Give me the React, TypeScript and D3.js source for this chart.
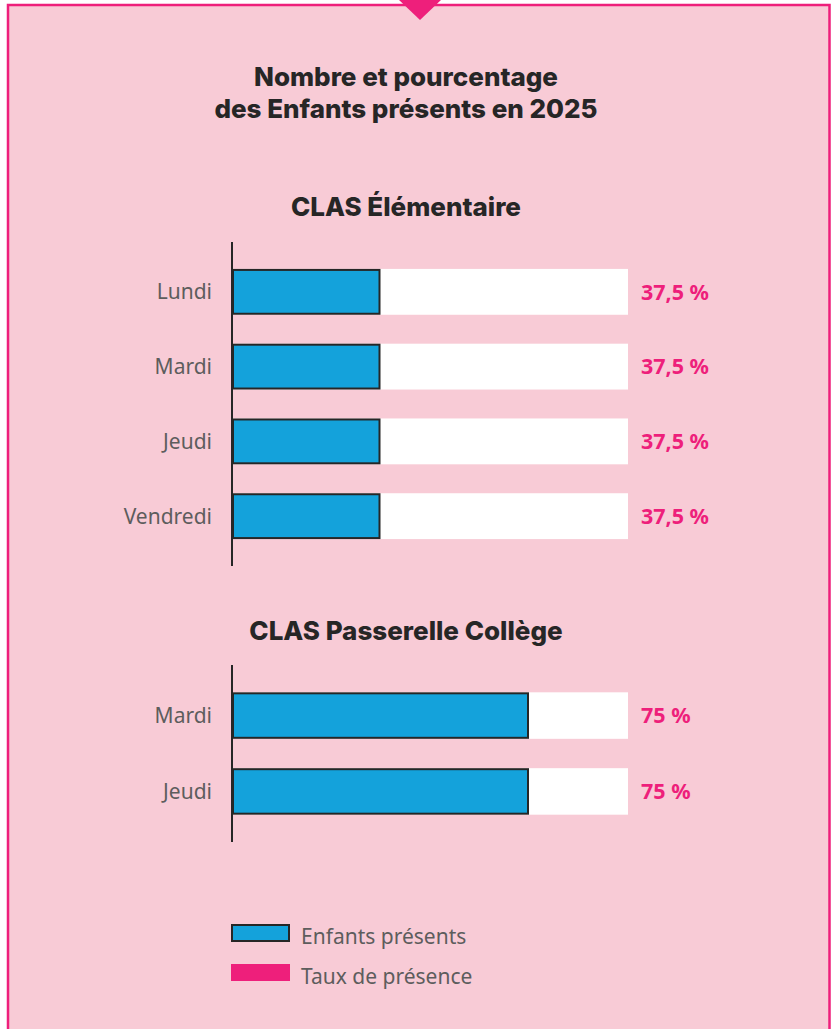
import React, { useEffect, useRef } from 'react';
import * as d3 from 'd3';

// Data
const elementaireDays = ['Lundi', 'Mardi', 'Jeudi', 'Vendredi'];
const elementaireRates = [37.5, 37.5, 37.5, 37.5];

const collegeDays = ['Mardi', 'Jeudi'];
const collegeRates = [75, 75];

const legendLabels = ['Enfants présents', 'Taux de présence'];

const titleLines = ['Nombre et pourcentage', 'des Enfants présents en 2025'];
const sectionTitles = ['CLAS Élémentaire', 'CLAS Passerelle Collège'];

const W = 831;
const H = 1029;
const PINK = '#ee1f7b';
const BG = '#f8cbd6';
const BLUE = '#14a2db';
const DARK = '#262626';
const GREY = '#5d5d5d';
const TITLE_FONT = 'Inter, sans-serif';
const BODY_FONT = '"Noto Sans", sans-serif';

const fmt = (v: number) => v.toString().replace('.', ',') + ' %';

export default function App() {
  const svgRef = useRef<SVGSVGElement | null>(null);

  useEffect(() => {
    if (!svgRef.current) return;
    const svg = d3.select(svgRef.current);
    svg.selectAll('*').remove();

    // Frame
    svg.append('rect')
      .attr('x', 8).attr('y', 5)
      .attr('width', W - 9.5).attr('height', H + 20)
      .attr('fill', BG)
      .attr('stroke', PINK)
      .attr('stroke-width', 2.5);

    svg.append('path')
      .attr('d', d3.line()([[399, 0], [441, 0], [420, 20]]) + 'Z')
      .attr('fill', PINK);

    // Titles
    svg.append('g')
      .selectAll('text')
      .data(titleLines)
      .join('text')
      .attr('x', 406)
      .attr('y', (d, i) => 86 + i * 32)
      .attr('text-anchor', 'middle')
      .attr('font-family', TITLE_FONT)
      .attr('font-weight', 800)
      .attr('font-size', 26)
      .attr('fill', DARK)
      .text(d => d);

    const x = d3.scaleLinear().domain([0, 100]).range([232, 628]);

    const drawChart = (days: string[], rates: number[], y0: number, y1: number, title: string, titleY: number) => {
      svg.append('text')
        .attr('x', 406)
        .attr('y', titleY)
        .attr('text-anchor', 'middle')
        .attr('font-family', TITLE_FONT)
        .attr('font-weight', 800)
        .attr('font-size', 26)
        .attr('fill', DARK)
        .text(title);

      const y = d3.scaleBand()
        .domain(days)
        .range([y0, y1])
        .paddingInner(0.387)
        .paddingOuter(0.36);

      const g = svg.append('g');
      const rows = days.map((d, i) => ({ day: d, rate: rates[i] }));

      // white track (100 %)
      g.selectAll('.track')
        .data(rows)
        .join('rect')
        .attr('class', 'track')
        .attr('x', x(0))
        .attr('y', d => y(d.day)!)
        .attr('width', x(100) - x(0))
        .attr('height', y.bandwidth())
        .attr('fill', '#ffffff');

      g.selectAll('.bar')
        .data(rows)
        .join('rect')
        .attr('class', 'bar')
        .attr('x', x(0) + 1)
        .attr('y', d => y(d.day)! + 1)
        .attr('width', d => x(d.rate) - x(0) - 2)
        .attr('height', y.bandwidth() - 2)
        .attr('fill', BLUE)
        .attr('stroke', DARK)
        .attr('stroke-width', 2);

      // axis line
      g.append('line')
        .attr('x1', x(0)).attr('x2', x(0))
        .attr('y1', y0).attr('y2', y1)
        .attr('stroke', DARK)
        .attr('stroke-width', 2);

      g.selectAll('.cat')
        .data(rows)
        .join('text')
        .attr('class', 'cat')
        .attr('x', 212)
        .attr('y', d => y(d.day)! + y.bandwidth() / 2)
        .attr('dy', '0.35em')
        .attr('text-anchor', 'end')
        .attr('font-family', BODY_FONT)
        .attr('font-size', 21)
        .attr('fill', GREY)
        .text(d => d.day);

      g.selectAll('.val')
        .data(rows)
        .join('text')
        .attr('class', 'val')
        .attr('x', 641)
        .attr('y', d => y(d.day)! + y.bandwidth() / 2)
        .attr('dy', '0.36em')
        .attr('font-family', BODY_FONT)
        .attr('font-weight', 700)
        .attr('font-size', 21.5)
        .attr('fill', PINK)
        .text(d => fmt(d.rate));
    };

    drawChart(elementaireDays, elementaireRates, 242, 566, sectionTitles[0], 216);
    drawChart(collegeDays, collegeRates, 665, 842, sectionTitles[1], 640);

    // Legend
    const legend = svg.append('g');
    const ly = d3.scaleBand().domain(legendLabels).range([920, 988]).paddingInner(0.3);
    legend.selectAll('rect')
      .data(legendLabels)
      .join('rect')
      .attr('x', (d, i) => (i === 0 ? 232 : 231))
      .attr('y', (d, i) => ly(d)! + (i === 0 ? 5 : 4))
      .attr('width', (d, i) => (i === 0 ? 57 : 59))
      .attr('height', (d, i) => (i === 0 ? 16 : 17))
      .attr('fill', (d, i) => (i === 0 ? BLUE : PINK))
      .attr('stroke', (d, i) => (i === 0 ? DARK : 'none'))
      .attr('stroke-width', 2);
    legend.selectAll('text')
      .data(legendLabels)
      .join('text')
      .attr('x', 301)
      .attr('y', d => ly(d)! + ly.bandwidth() / 2 + 3)
      .attr('dy', '0.35em')
      .attr('font-family', BODY_FONT)
      .attr('font-size', 21)
      .attr('fill', GREY)
      .text(d => d);
  }, []);

  return (
    <div style={{ position: 'fixed', left: 0, top: 0, width: W, height: H, overflow: 'hidden' }}>
      <svg ref={svgRef} width={W} height={H} style={{ display: 'block' }} />
    </div>
  );
}
